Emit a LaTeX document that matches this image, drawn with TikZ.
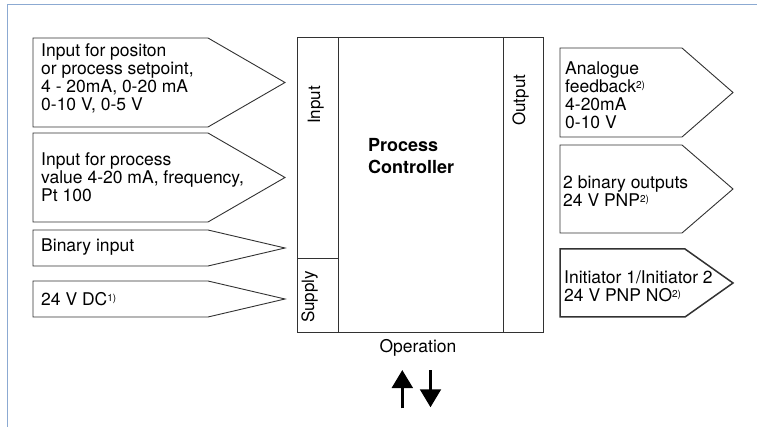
\documentclass[tikz,border=0pt]{standalone}
\usepackage{fontspec}
\setmainfont{TeX Gyre Heros}
\usetikzlibrary{arrows.meta}
\definecolor{framecol}{RGB}{140,170,210}
\definecolor{linecol}{RGB}{50,50,50}
\newcommand{\fnote}[1]{{\fontsize{10}{10}\selectfont\raisebox{4.2pt}{#1}}}
\tikzset{
  pent/.style={draw=linecol, line width=0.9pt, fill=white, line join=miter},
  pentthick/.style={draw=linecol, line width=1.5pt, fill=white, line join=miter},
  ctrl/.style={draw=linecol, line width=0.9pt},
  txt/.style={font=\fontsize{17.5}{18.3}\selectfont, align=left, inner sep=0pt, anchor=base west},
  vtxt/.style={font=\fontsize{17}{18}\selectfont, inner sep=0pt, anchor=base west, rotate=90},
  boldtxt/.style={font=\fontsize{18}{22.3}\selectfont\bfseries, align=left, inner sep=0pt, anchor=base west},
  oparrow/.style={line width=3.3pt, -{Triangle[length=18pt,width=20.6pt]}}
}
\begin{document}
\begin{tikzpicture}[x=1pt,y=-1pt]
\useasboundingbox (0,0) rectangle (757,427);
% frame
\draw[framecol, line width=1pt] (7,427) -- (7,5) -- (757,5);
% left pentagons
\draw[pent] (33,38) -- (208,38) -- (285,82.5) -- (208,127) -- (33,127) -- cycle;
\draw[pent] (33,133) -- (208,133) -- (285,177.5) -- (208,222) -- (33,222) -- cycle;
\draw[pent] (33,230) -- (208,230) -- (285,248) -- (208,266) -- (33,266) -- cycle;
\draw[pent] (33,281) -- (208,281) -- (285,299) -- (208,317) -- (33,317) -- cycle;
% right pentagons
\draw[pent] (560,48) -- (682,48) -- (733,92.5) -- (682,137) -- (560,137) -- cycle;
\draw[pent] (560,145) -- (682,145) -- (733,189) -- (682,233) -- (560,233) -- cycle;
\draw[pentthick] (560,249) -- (685,249) -- (733,283) -- (685,317) -- (560,317) -- cycle;
% controller box
\draw[ctrl] (297,37) rectangle (543,332);
\draw[ctrl] (338,37) -- (338,332);
\draw[ctrl] (503,37) -- (503,332);
\draw[ctrl] (297,258) -- (338,258);
% texts (anchor: baseline of the last line)
\node[txt] (in1) at (41,111) {Input for positon\\or process setpoint,\\4 - 20mA, 0-20 mA\\0-10 V, 0-5 V};
\node[txt] (in2) at (41,201.7) {Input for process\\value 4-20 mA, frequency,\\Pt 100};
\node[txt] (in3) at (41,252) {Binary input};
\node[txt] (in4) at (41,306) {24 V DC\fnote{1)}};
\node[txt] (out1) at (565,129) {Analogue\\feedback\fnote{2)}\\4-20mA\\0-10 V};
\node[txt] (out2) at (563,206.8) {2 binary outputs\\24 V PNP\fnote{2)}};
\node[txt] (out3) at (564,301.7) {Initiator 1/Initiator 2\\24 V PNP NO\fnote{2)}};
\node[boldtxt] (pc) at (368,174) {Process\\Controller};
\node[vtxt] (lin) at (320,124) {Input};
\node[vtxt] (lout) at (525,126) {Output};
\node[vtxt] (lsup) at (314,323) {Supply};
\node[txt, anchor=base] (op) at (418,352.7) {Operation};
% operation arrows
\coordinate (upS) at (402.3,408.3);
\coordinate (upE) at (402.3,370);
\coordinate (dnS) at (430.5,370);
\coordinate (dnE) at (430.5,407.3);
\draw[oparrow] (upS) -- (upE);
\draw[oparrow] (dnS) -- (dnE);
\end{tikzpicture}
\end{document}
